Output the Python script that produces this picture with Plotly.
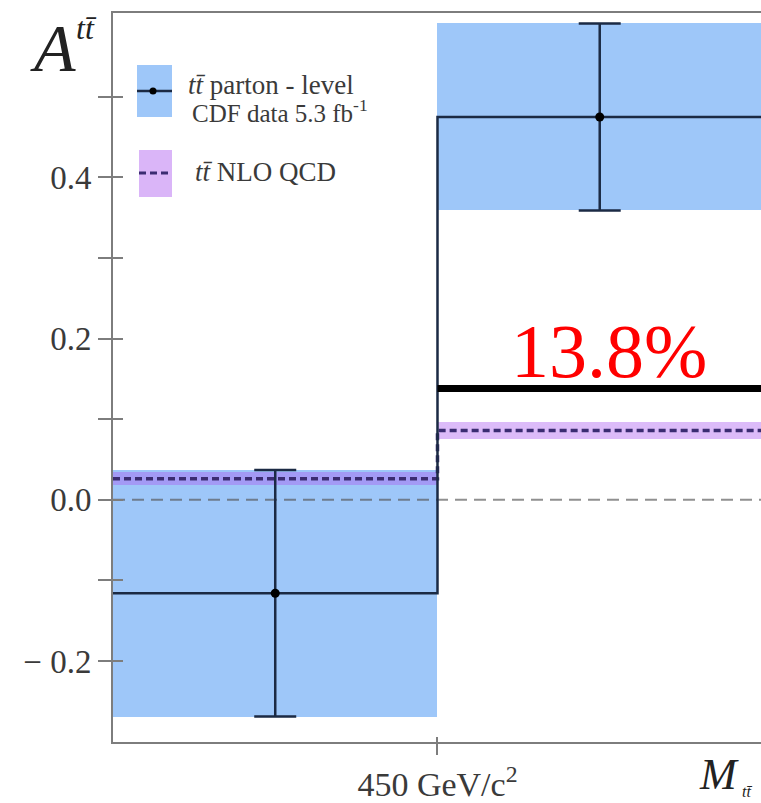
import plotly.graph_objects as go

# Top-quark pair forward-backward asymmetry in two bins of invariant mass
bin_edges = [0.0, 1.0, 2.0]
bin_labels = ["M < 450", "M ≥ 450"]
edge_tick_label = "450 GeV/c<sup>2</sup>"

cdf_asym = [-0.116, 0.475]
cdf_err = [0.153, 0.116]

nlo_asym = [0.026, 0.086]
nlo_err = [0.008, 0.010]

high_mass_value = 0.138

ytick_vals = [-0.2, 0.0, 0.2, 0.4]
ytick_text = ["− 0.2", "0.0", "0.2", "0.4"]
yminor_vals = [-0.1, 0.1, 0.3, 0.5]

centers = [(bin_edges[i] + bin_edges[i + 1]) / 2 for i in range(len(bin_labels))]
widths = [bin_edges[i + 1] - bin_edges[i] for i in range(len(bin_labels))]

X_RANGE = [0.0, 1.997]
Y_RANGE = [-0.3005, 0.604]

SERIF = "Liberation Serif, Times New Roman, serif"
AXIS_GREY = "#7d7d7d"
TEXT = "#3a3a3a"
BLUE = "rgb(158,199,249)"
PURPLE = "rgba(172,92,240,0.42)"
DATA_LINE = "#1b2a44"
NLO_LINE = "#3b2c72"

fig = go.Figure()

# measurement uncertainty bands
fig.add_trace(go.Bar(
    x=centers, y=[2 * e for e in cdf_err],
    base=[v - e for v, e in zip(cdf_asym, cdf_err)],
    width=widths, marker=dict(color=BLUE, line=dict(width=0)),
    hoverinfo="skip", showlegend=False,
))
# NLO prediction bands
fig.add_trace(go.Bar(
    x=centers, y=[2 * e for e in nlo_err],
    base=[v - e for v, e in zip(nlo_asym, nlo_err)],
    width=widths, marker=dict(color=PURPLE, line=dict(width=0)),
    hoverinfo="skip", showlegend=False,
))

# zero reference
fig.add_trace(go.Scatter(
    x=[bin_edges[0], bin_edges[-1]], y=[0, 0], mode="lines",
    line=dict(color="rgba(85,85,85,0.65)", width=2, dash="12px,7px"),
    hoverinfo="skip", showlegend=False,
))

# NLO step
fig.add_trace(go.Scatter(
    x=bin_edges, y=nlo_asym + [nlo_asym[-1]], mode="lines", line_shape="hv",
    line=dict(color=NLO_LINE, width=3.5, dash="7px,4px"),
    hoverinfo="skip", showlegend=False,
))

# data step
fig.add_trace(go.Scatter(
    x=bin_edges, y=cdf_asym + [cdf_asym[-1]], mode="lines", line_shape="hv",
    line=dict(color=DATA_LINE, width=2.5),
    hoverinfo="skip", showlegend=False,
))

# data points with error bars
fig.add_trace(go.Scatter(
    x=centers, y=cdf_asym, mode="markers",
    marker=dict(color="black", size=9),
    error_y=dict(type="data", array=cdf_err, color=DATA_LINE, thickness=2.5, width=21),
    hoverinfo="skip", showlegend=False,
))

# high-mass reference level
fig.add_trace(go.Scatter(
    x=[bin_edges[1], bin_edges[2]], y=[high_mass_value, high_mass_value],
    mode="lines", line=dict(color="black", width=7),
    hoverinfo="skip", showlegend=False,
))

# invisible trace carrying the inner-tick axes
fig.add_trace(go.Scatter(x=[None], y=[None], xaxis="x2", yaxis="y2",
                         hoverinfo="skip", showlegend=False))

fig.add_annotation(
    x=(bin_edges[1] + bin_edges[2]) / 2 + 0.028, y=high_mass_value,
    xref="x", yref="y", xanchor="center", yanchor="bottom", yshift=-6,
    text=f"{high_mass_value * 100:.1f}%", showarrow=False,
    font=dict(family=SERIF, size=76, color="#ff0000"),
)

PLOT_L, PLOT_R, PLOT_T, PLOT_B = 113, 761, 13, 742


def px_x(p):
    return (p - PLOT_L) / (PLOT_R - PLOT_L)


def px_y(p):
    return (PLOT_B - p) / (PLOT_B - PLOT_T)


# axis titles
fig.add_annotation(x=px_x(28), y=px_y(48), xref="paper", yref="paper",
                   xanchor="left", yanchor="middle", showarrow=False,
                   text="<i>A</i>", font=dict(family=SERIF, size=68, color="#222"))
fig.add_annotation(x=px_x(74), y=px_y(28), xref="paper", yref="paper",
                   xanchor="left", yanchor="middle", showarrow=False,
                   text="<i>tt̄</i>", font=dict(family=SERIF, size=32, color="#222"))
fig.add_annotation(x=px_x(697), y=px_y(774), xref="paper", yref="paper",
                   xanchor="left", yanchor="middle", showarrow=False,
                   text="<i>M</i>", font=dict(family=SERIF, size=44, color="#222"))
fig.add_annotation(x=px_x(740), y=px_y(791), xref="paper", yref="paper",
                   xanchor="left", yanchor="middle", showarrow=False,
                   text="<i>tt̄</i>", font=dict(family=SERIF, size=16, color="#222"))

# legend
shapes = [
    dict(type="rect", xref="paper", yref="paper",
         x0=px_x(137), x1=px_x(172), y0=px_y(117), y1=px_y(65),
         fillcolor=BLUE, line=dict(width=0), layer="above"),
    dict(type="line", xref="paper", yref="paper",
         x0=px_x(137), x1=px_x(172), y0=px_y(91), y1=px_y(91),
         line=dict(color=DATA_LINE, width=2.5), layer="above"),
    dict(type="circle", xref="paper", yref="paper",
         x0=px_x(149.5), x1=px_x(156.5), y0=px_y(94.5), y1=px_y(87.5),
         fillcolor="black", line=dict(width=0), layer="above"),
    dict(type="rect", xref="paper", yref="paper",
         x0=px_x(139), x1=px_x(172), y0=px_y(197), y1=px_y(150),
         fillcolor="rgba(172,92,240,0.45)", line=dict(width=0), layer="above"),
    dict(type="line", xref="paper", yref="paper",
         x0=px_x(139), x1=px_x(172), y0=px_y(173), y1=px_y(173),
         line=dict(color=NLO_LINE, width=3, dash="7px,4px"), layer="above"),
]
fig.add_annotation(x=px_x(186), y=px_y(85), xref="paper", yref="paper",
                   xanchor="left", yanchor="middle", showarrow=False,
                   text="<i>tt̄</i> parton - level", font=dict(family=SERIF, size=27, color=TEXT))
fig.add_annotation(x=px_x(190), y=px_y(111), xref="paper", yref="paper",
                   xanchor="left", yanchor="middle", showarrow=False,
                   text="CDF data 5.3 fb<sup>-1</sup>", font=dict(family=SERIF, size=25, color=TEXT))
fig.add_annotation(x=px_x(193), y=px_y(172), xref="paper", yref="paper",
                   xanchor="left", yanchor="middle", showarrow=False,
                   text="<i>tt̄</i> NLO QCD", font=dict(family=SERIF, size=27, color=TEXT))

fig.update_layout(
    width=761, height=803,
    margin=dict(l=PLOT_L, r=761 - PLOT_R, t=PLOT_T, b=803 - PLOT_B),
    paper_bgcolor="white", plot_bgcolor="white",
    barmode="overlay", bargap=0,
    shapes=shapes,
    xaxis=dict(
        range=X_RANGE, showgrid=False, zeroline=False,
        showline=True, linecolor=AXIS_GREY, linewidth=2, mirror=True,
        tickmode="array", tickvals=[bin_edges[1]], ticktext=[edge_tick_label],
        ticks="outside", ticklen=11, tickwidth=1.5, tickcolor=AXIS_GREY,
        tickfont=dict(family=SERIF, size=34, color=TEXT),
    ),
    yaxis=dict(
        range=Y_RANGE, showgrid=False, zeroline=False,
        showline=True, linecolor=AXIS_GREY, linewidth=2,
        tickmode="array", tickvals=ytick_vals, ticktext=ytick_text,
        ticks="outside", ticklen=13, tickwidth=1.5, tickcolor=AXIS_GREY,
        minor=dict(tickmode="array", tickvals=yminor_vals, ticks="outside",
                   ticklen=13, tickwidth=1.5, tickcolor=AXIS_GREY),
        tickfont=dict(family=SERIF, size=33, color=TEXT),
    ),
    xaxis2=dict(
        overlaying="x", range=X_RANGE, showgrid=False, zeroline=False,
        showline=False, tickmode="array", tickvals=[bin_edges[1]],
        showticklabels=False, ticks="inside", ticklen=5, tickwidth=1.5,
        tickcolor=AXIS_GREY, anchor="y2",
    ),
    yaxis2=dict(
        overlaying="y", range=Y_RANGE, showgrid=False, zeroline=False,
        showline=False, tickmode="array", tickvals=ytick_vals + yminor_vals,
        showticklabels=False, ticks="inside", ticklen=10, tickwidth=1.5,
        tickcolor=AXIS_GREY, anchor="x2", side="left",
    ),
)

fig.write_html("out.html")
